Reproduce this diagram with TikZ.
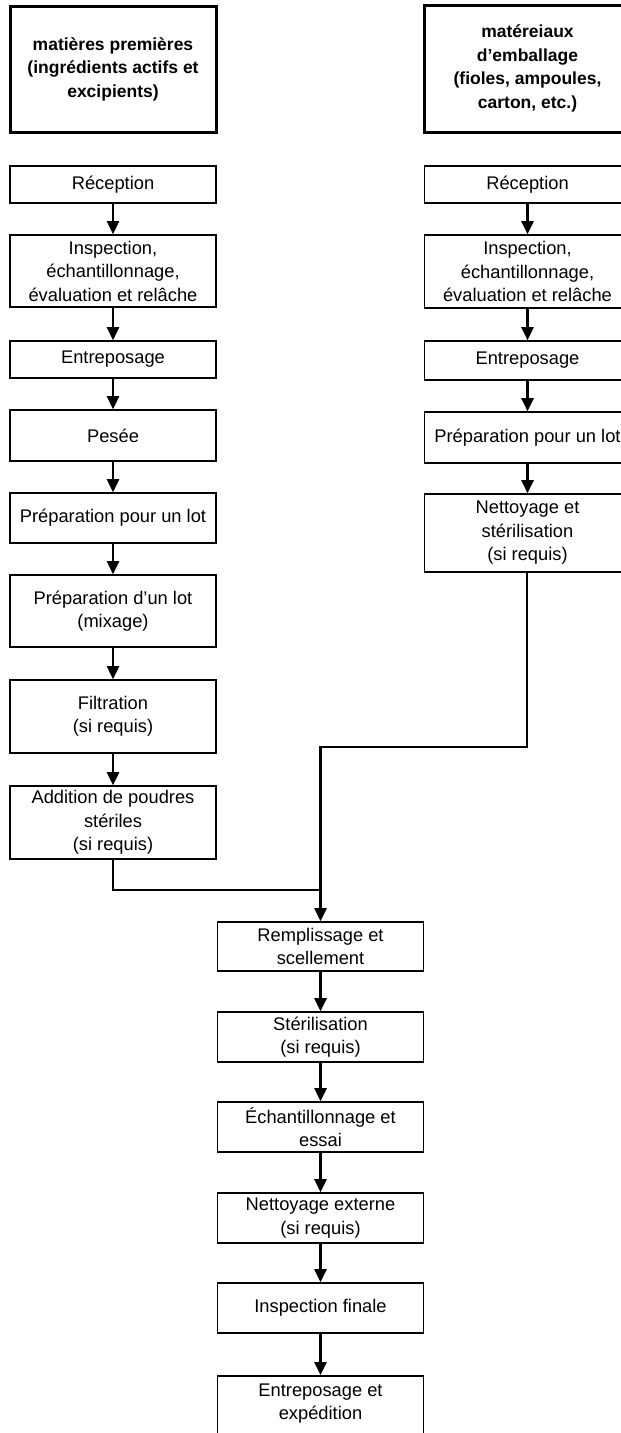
\documentclass[tikz,border=0pt]{standalone}
\usepackage{fontspec}
\setmainfont{Liberation Sans}
\usetikzlibrary{arrows.meta}
\begin{document}
\begin{tikzpicture}[x=1pt,y=-1pt,
    box/.style={draw, line width=1.6pt, minimum width=206pt, inner sep=0pt, align=center,
      font=\fontsize{18.3}{23.5}\selectfont},
    srcbox/.style={box, line width=3pt, font=\fontsize{17.5}{23.5}\selectfont\bfseries},
    flow/.style={line width=2.6pt},
    arrow/.style={flow, -{Triangle[width=12pt,length=13pt]}}]
      \def\leftx{113}
      \def\rightx{527.5}
      \def\midx{320.5}

      \useasboundingbox (0,0) rectangle (621,1433);

      \node[srcbox, minimum height=126pt] (srcA) at (\leftx,69) {matières premières\\(ingrédients actifs et\\excipients)};
      \node[box, minimum height=37pt] (recA) at (\leftx,184.5) {Réception};
      \node[box, minimum height=72pt] (inspA) at (\leftx,271) {Inspection,\\échantillonnage,\\évaluation et relâche};
      \node[box, minimum height=37pt] (entA) at (\leftx,359.5) {Entreposage};
      \node[box, minimum height=51pt] (pes) at (\leftx,435.5) {Pesée};
      \node[box, minimum height=50pt] (prepA) at (\leftx,518) {Préparation pour un lot};
      \node[box, minimum height=72pt] (mix) at (\leftx,611) {Préparation d'un lot\\(mixage)};
      \node[box, minimum height=73pt] (filt) at (\leftx,716.5) {Filtration\\(si requis)};
      \node[box, minimum height=73pt] (addp) at (\leftx,822.5) {Addition de poudres\\stériles\\(si requis)};

      \node[srcbox, minimum height=127pt] (srcB) at (\rightx,68.5) {matéreiaux\\d'emballage\\(fioles, ampoules,\\carton, etc.)};
      \node[box, minimum height=37pt] (recB) at (\rightx,184.5) {Réception};
      \node[box, minimum height=73pt] (inspB) at (\rightx,271.5) {Inspection,\\échantillonnage,\\évaluation et relâche};
      \node[box, minimum height=39pt] (entB) at (\rightx,360.5) {Entreposage};
      \node[box, minimum height=51pt] (prepB) at (\rightx,437.5) {Préparation pour un lot};
      \node[box, minimum height=78pt] (nett) at (\rightx,533) {Nettoyage et\\stérilisation\\(si requis)};

      \node[box, minimum height=49pt] (fill) at (\midx,946.5) {Remplissage et\\scellement};
      \node[box, minimum height=50pt] (ster) at (\midx,1037) {Stérilisation\\(si requis)};
      \node[box, minimum height=50pt] (samp) at (\midx,1127) {Échantillonnage et\\essai};
      \node[box, minimum height=50pt] (clean) at (\midx,1218) {Nettoyage externe\\(si requis)};
      \node[box, minimum height=50pt] (final) at (\midx,1308) {Inspection finale};
      \node[box, minimum height=70pt, anchor=north, text depth=18pt] (ship) at (\midx,1375) {Entreposage et\\expédition};

      \foreach \a/\b in {recA/inspA, inspA/entA, entA/pes, pes/prepA, prepA/mix, mix/filt, filt/addp,
                         recB/inspB, inspB/entB, entB/prepB, prepB/nett,
                         fill/ster, ster/samp, samp/clean, clean/final, final/ship} {
        \draw[arrow] (\a.south) -- (\b.north);
      }

      \coordinate (jr) at (527,747);
      \coordinate (jm) at (\midx,747);
      \coordinate (jn) at (\midx,890);
      \draw[flow] (addp.south) |- (jn);
      \draw[arrow] (nett.south -| jr) -- (jr) -- (jm) -- (fill.north);
    \end{tikzpicture}
\end{document}
